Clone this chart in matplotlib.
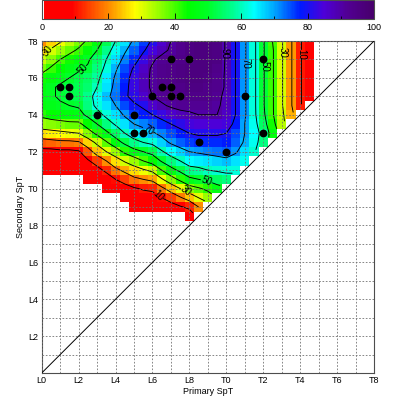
import numpy as np
import matplotlib
matplotlib.use('Agg')
import matplotlib.pyplot as plt
from matplotlib.colors import LinearSegmentedColormap, ListedColormap

plt.rcParams['font.family'] = ['Liberation Sans', 'DejaVu Sans']
plt.rcParams['font.size'] = 6.5

_ = np.nan

# ------------ data ------------
# spectral types as numbers: L0 = 0, T0 = 10, T8 = 18
grid_primary = np.arange(0, 14.51, 0.5)      # columns, L0 .. T4.5
grid_secondary = np.arange(18, 8.49, -0.5)   # rows, T8 .. L8.5 (top row first)

# fraction (%) per cell; _ = no value (white)
frac = [
    [20, 25, 29, 33, 37, 41, 46, 53, 60, 66, 71, 76, 81, 86, 90, 93, 95, 96, 96, 95, 89, 80, 71, 62, 51, 40, 31, 21, 11, 4],
    [26, 31, 35, 38, 41, 45, 50, 57, 63, 69, 74, 79, 84, 88, 91, 93, 95, 96, 96, 95, 89, 80, 71, 62, 51, 41, 31, 21, 11, 4],
    [32, 36, 40, 43, 46, 49, 54, 60, 66, 72, 77, 83, 89, 92, 93, 94, 95, 96, 96, 95, 89, 80, 71, 62, 51, 41, 31, 21, 11, 4],
    [37, 41, 44, 47, 49, 51, 56, 62, 69, 75, 81, 87, 91, 93, 94, 95, 96, 96, 96, 94, 89, 80, 71, 62, 51, 41, 31, 21, 11, 4],
    [43, 46, 48, 50, 52, 54, 58, 65, 71, 77, 83, 88, 91, 93, 94, 95, 96, 96, 95, 93, 89, 80, 71, 62, 51, 41, 31, 21, 11, 4],
    [46, 49, 51, 52, 53, 55, 60, 66, 72, 78, 83, 88, 91, 93, 94, 94, 95, 95, 94, 93, 89, 80, 71, 62, 51, 41, 31, 21, 11, 4],
    [47, 49, 51, 52, 53, 57, 63, 68, 73, 79, 82, 86, 90, 92, 93, 93, 94, 94, 94, 92, 88, 80, 71, 62, 51, 41, 31, 21, 11, 4],
    [46, 48, 49, 50, 51, 56, 62, 66, 70, 75, 79, 81, 86, 89, 91, 92, 92, 92, 92, 91, 88, 80, 71, 62, 51, 41, 31, 21, 11, _],
    [42, 44, 45, 46, 47, 52, 57, 62, 66, 71, 76, 78, 80, 83, 86, 88, 89, 90, 90, 90, 87, 80, 71, 62, 52, 41, 32, 23, _, _],
    [35, 36, 37, 38, 38, 44, 50, 56, 61, 66, 70, 72, 74, 77, 80, 82, 84, 85, 85, 85, 84, 78, 70, 63, 54, 43, 33, _, _, _],
    [26, 27, 28, 29, 30, 36, 42, 48, 54, 60, 65, 67, 69, 72, 75, 78, 80, 81, 81, 81, 80, 75, 70, 64, 57, 46, _, _, _, _],
    [16, 17, 18, 18, 19, 25, 32, 39, 46, 52, 57, 60, 62, 67, 71, 74, 76, 77, 77, 77, 78, 74, 69, 63, 56, _, _, _, _, _],
    [7, 7, 8, 8, 9, 16, 24, 30, 35, 42, 47, 50, 53, 59, 64, 67, 70, 71, 72, 73, 74, 71, 66, 61, _, _, _, _, _, _],
    [3, 3, 4, 4, 5, 9, 14, 20, 26, 31, 35, 40, 44, 51, 56, 60, 64, 65, 66, 67, 68, 66, 63, _, _, _, _, _, _, _],
    [1, 1, 2, 2, 3, 5, 7, 12, 18, 22, 26, 29, 32, 40, 47, 52, 57, 58, 60, 61, 62, 62, _, _, _, _, _, _, _, _],
    [_, _, _, _, _, 1, 2, 5, 10, 14, 18, 20, 22, 29, 36, 42, 48, 50, 52, 54, 56, _, _, _, _, _, _, _, _, _],
    [_, _, _, _, _, _, _, 1, 3, 6, 9, 11, 12, 18, 24, 30, 36, 39, 42, 47, _, _, _, _, _, _, _, _, _, _],
    [_, _, _, _, _, _, _, _, _, 2, 4, 5, 6, 10, 14, 19, 24, 30, 35, _, _, _, _, _, _, _, _, _, _, _],
    [_, _, _, _, _, _, _, _, _, _, 1, 1, 2, 4, 6, 9, 12, 20, _, _, _, _, _, _, _, _, _, _, _, _],
    [_, _, _, _, _, _, _, _, _, _, _, _, _, _, _, _, 4, _, _, _, _, _, _, _, _, _, _, _, _, _],
]

# observed binaries (primary, secondary)
obs_primary = [1, 1.5, 1.5, 3, 5, 5, 5.5, 6, 6.5, 7, 7, 7.5, 7, 8, 8.5, 10, 12, 11, 12]
obs_secondary = [15.5, 15.5, 15, 14, 14, 13, 13, 15, 15.5, 15.5, 15, 15, 17, 17, 12.5, 12, 17, 15, 13]

plain_levels = [20, 40, 60, 80]
labelled_levels = [10, 30, 50, 70, 90]
cbar_ticks = [0, 20, 40, 60, 80, 100]

spt_ticks = list(range(0, 19, 2))
spt_labels = ['L0', 'L2', 'L4', 'L6', 'L8', 'T0', 'T2', 'T4', 'T6', 'T8']

# ------------ colour table (reversed rainbow, white at the very bottom) ------------
nodes = [
    (0.00, (1.0, 0.0, 0.0)),
    (0.09, (1.0, 0.0, 0.0)),
    (0.18, (1.0, 0.45, 0.0)),
    (0.22, (1.0, 0.65, 0.0)),
    (0.28, (1.0, 1.0, 0.0)),
    (0.35, (0.6, 1.0, 0.0)),
    (0.44, (0.0, 1.0, 0.0)),
    (0.50, (0.0, 1.0, 0.15)),
    (0.58, (0.0, 1.0, 0.6)),
    (0.64, (0.0, 1.0, 1.0)),
    (0.70, (0.0, 0.65, 1.0)),
    (0.78, (0.0, 0.1, 1.0)),
    (0.85, (0.3, 0.0, 0.85)),
    (0.92, (0.32, 0.0, 0.58)),
    (1.00, (0.28, 0.0, 0.42)),
]
base = LinearSegmentedColormap.from_list('rainbow_rev', nodes, N=256)
colors = base(np.linspace(0, 1, 256))
colors[:2] = (1, 1, 1, 1)
cmap = ListedColormap(colors)

# ------------ figure ------------
fig = plt.figure(figsize=(4.15, 4.15), dpi=100)
ax = fig.add_axes([0.1005, 0.1012, 0.8007, 0.8])

field = np.array(frac, dtype=float)[::-1]
sec = grid_secondary[::-1]
masked = np.ma.masked_invalid(field)

mesh = ax.pcolormesh(grid_primary, sec, masked, cmap=cmap, vmin=0, vmax=100,
                     shading='nearest', zorder=1)
ax.contour(grid_primary, sec, masked, levels=plain_levels,
           colors='k', linewidths=0.65, zorder=2)
cs = ax.contour(grid_primary, sec, masked, levels=labelled_levels,
                colors='k', linewidths=0.65, zorder=2)
label_pos = [(0.45, 17.4), (2.43, 16.33), (9.75, 17.3), (11.1, 16.8), (12.1, 16.6),
             (13.1, 17.4), (14.1, 17.3), (5.6, 13.0), (8.93, 10.4), (7.85, 9.9),
             (6.32, 9.6)]
ax.clabel(cs, fmt='%d', fontsize=7, inline=True, inline_spacing=2, manual=label_pos)

ax.plot([0, 18], [0, 18], color='k', lw=0.7, zorder=3)
ax.plot(obs_primary, obs_secondary, 'o', color='k', ms=4.6, zorder=4)

ax.set_xlim(0, 18)
ax.set_ylim(0, 18)
ax.set_xticks(spt_ticks)
ax.set_xticklabels(spt_labels)
ax.set_yticks(spt_ticks[1:])
ax.set_yticklabels(spt_labels[1:])
ax.set_xticks(range(0, 19), minor=True)
ax.set_yticks(range(0, 19), minor=True)
ax.tick_params(which='both', length=0, pad=2.5)
ax.set_axisbelow(False)
ax.grid(which='both', color='0.45', ls=(0, (2, 2)), lw=0.6)
for sp in ax.spines.values():
    sp.set_color('0.3')
    sp.set_linewidth(0.8)

ax.set_xlabel('Primary SpT', labelpad=1)
ax.set_ylabel('Secondary SpT', labelpad=2)

# colour bar across the top
cax = fig.add_axes([0.1005, 0.954, 0.8007, 0.046])
cb = fig.colorbar(mesh, cax=cax, orientation='horizontal')
cb.set_ticks(cbar_ticks)
cb.ax.set_xticks(range(10, 100, 20), minor=True)
cb.ax.tick_params(which='major', direction='in', length=4, width=0.6, pad=3)
cb.ax.tick_params(which='minor', direction='in', length=2.5, width=0.6)
cb.outline.set_linewidth(0.8)
cb.outline.set_edgecolor('0.3')

fig.savefig('out.png', dpi=100)
